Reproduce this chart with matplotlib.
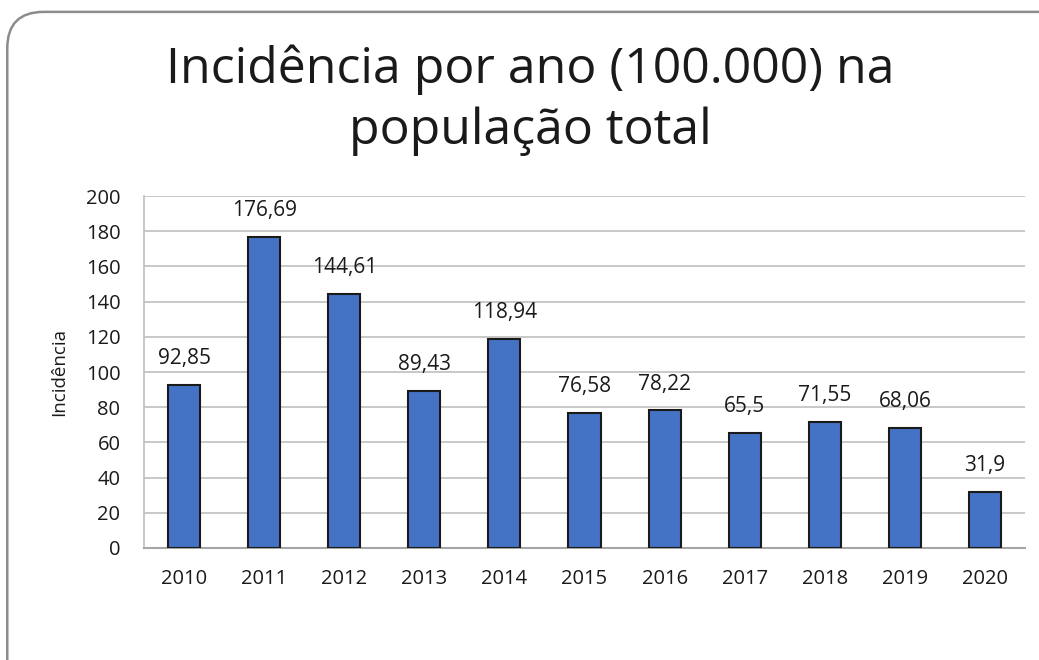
import matplotlib.pyplot as plt
from matplotlib.patches import FancyBboxPatch

anos = ['2010', '2011', '2012', '2013', '2014', '2015', '2016', '2017', '2018', '2019', '2020']
incidencia = [92.85, 176.69, 144.61, 89.43, 118.94, 76.58, 78.22, 65.5, 71.55, 68.06, 31.9]
rotulos = ['92,85', '176,69', '144,61', '89,43', '118,94', '76,58', '78,22', '65,5', '71,55', '68,06', '31,9']

plt.rcParams['font.family'] = ['Open Sans', 'DejaVu Sans']

fig = plt.figure(figsize=(10.39, 6.6), dpi=100)

# moldura arredondada (sai da imagem à direita e embaixo)
borda = FancyBboxPatch((0.007, -0.1), 1.05, 1.082, boxstyle="round,pad=0,rounding_size=0.035",
                       transform=fig.transFigure, facecolor='none', edgecolor='#8c8c8c',
                       linewidth=1.8, mutation_aspect=1039 / 660, zorder=-1)
fig.patches.append(borda)

ax = fig.add_axes([0.1386, 0.1697, 0.8479, 0.5333])
ax.patch.set_alpha(0)
x = range(len(anos))
ax.bar(x, incidencia, width=0.4, color='#4472C4', edgecolor='#1a1a1a', linewidth=1.5, zorder=3)

for i, v in enumerate(incidencia):
    ax.text(i, v + 9, rotulos[i], ha='center', va='bottom', fontsize=15, color='#1a1a1a')

ax.set_xlim(-0.5, len(anos) - 0.5)
ax.set_ylim(0, 200)
ax.set_yticks(range(0, 201, 20))
ax.set_xticks(list(x))
ax.set_xticklabels(anos)
ax.tick_params(axis='both', length=0, labelsize=14.5, colors='#1a1a1a')
ax.tick_params(axis='x', pad=15)
ax.tick_params(axis='y', pad=17)
ax.grid(axis='y', color='#bfbfbf', linewidth=1.2, zorder=0)
ax.set_axisbelow(True)
for s in ['top', 'right']:
    ax.spines[s].set_visible(False)
ax.spines['left'].set_color('#bfbfbf')
ax.spines['bottom'].set_color('#a6a6a6')
ax.spines['left'].set_linewidth(1.2)
ax.spines['bottom'].set_linewidth(1.5)
ax.set_ylabel('Incidência', fontsize=13.5, color='#1a1a1a', labelpad=13)

fig.text(0.51, 0.848, 'Incidência por ano (100.000) na\npopulação total', ha='center', va='center',
         fontsize=36, color='#1a1a1a', linespacing=1.3)

plt.savefig('out.png', dpi=100)
